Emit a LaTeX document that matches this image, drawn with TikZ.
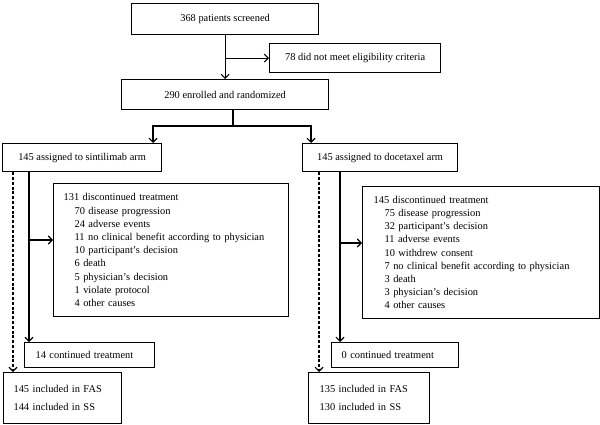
\documentclass[tikz,border=0pt]{standalone}
\usepackage{fontspec}
\setmainfont{Liberation Serif}
\usetikzlibrary{arrows.meta}

\tikzset{
  box/.style={draw, line width=1.2pt, anchor=north west, inner sep=0pt,
    font=\fontsize{10.4}{13.2}\selectfont},
  listbox/.style={box, align=left, inner xsep=10pt},
  link/.style={line width=1.1pt, -{Straight Barb[length=4pt,width=8pt]}},
  dashlink/.style={link, dash pattern=on 3pt off 1.8pt},
}

\begin{document}
\begin{tikzpicture}[x=1pt, y=-1pt]
    \useasboundingbox (0,0) rectangle (600,425);
    \node[box, minimum width=187pt, minimum height=31pt] (screen) at (131,3) {368 patients screened};
    \node[box, minimum width=171pt, minimum height=29pt] (excl) at (269,43) {78 did not meet eligibility criteria};
    \node[box, minimum width=207pt, minimum height=30pt] (enrol) at (121,79) {290 enrolled and randomized};
    \node[box, minimum width=159pt, minimum height=28pt] (armA) at (2,143) {145 assigned to sintilimab arm};
    \node[box, minimum width=155pt, minimum height=28pt] (armB) at (302,143) {145 assigned to docetaxel arm};

    \node[listbox, text width=215pt, minimum height=133pt] (discA) at (53,183) {131 discontinued treatment\\
        \hspace*{11pt}70 disease progression\\
        \hspace*{11pt}24 adverse events\\
        \hspace*{11pt}11 no clinical benefit according to physician\\
        \hspace*{11pt}10 participant’s decision\\
        \hspace*{11pt}6 death\\
        \hspace*{11pt}5 physician’s decision\\
        \hspace*{11pt}1 violate protocol\\
        \hspace*{11pt}4 other causes};
    \node[listbox, text width=215pt, inner xsep=11pt, minimum height=132pt] (discB) at (362,186) {145 discontinued treatment\\
        \hspace*{11pt}75 disease progression\\
        \hspace*{11pt}32 participant’s decision\\
        \hspace*{11pt}11 adverse events\\
        \hspace*{11pt}10 withdrew consent\\
        \hspace*{11pt}7 no clinical benefit according to physician\\
        \hspace*{11pt}3 death\\
        \hspace*{11pt}3 physician’s decision\\
        \hspace*{11pt}4 other causes};

    \node[listbox, text width=108pt, inner xsep=11pt, minimum height=25pt] (contA) at (24,342) {14 continued treatment};
    \node[listbox, text width=107pt, minimum height=25pt] (contB) at (331,342) {0 continued treatment};
    \node[listbox, text width=98pt, minimum height=51pt] (fasA) at (3,372) {145 included in FAS\\[4.3pt]144 included in SS};
    \node[listbox, text width=99pt, inner xsep=11pt, minimum height=51pt] (fasB) at (308,372) {135 included in FAS\\[4.3pt]130 included in SS};

    \coordinate (rand) at (233,126);
    \coordinate (toA) at (153,126);
    \coordinate (toB) at (311,126);
    \coordinate (outA) at (29,240);
    \coordinate (outB) at (340,243);
    \coordinate (dashA) at (13,0);
    \coordinate (dashB) at (319,0);

    \draw[link] (screen.south) -- (enrol.north);
    \draw[link] (screen.south |- excl.west) -- (excl.west);
    \draw[line width=1.1pt] (rand |- enrol.south) -- (rand);
    \draw[link] (rand) -- (toA) -- (toA |- armA.north);
    \draw[link] (rand) -- (toB) -- (toB |- armB.north);

    \draw[link] (armA.south -| outA) -- (contA.north -| outA);
    \draw[link] (outA) -- (outA -| discA.west);
    \draw[dashlink] (armA.south -| dashA) -- (fasA.north -| dashA);
    \draw[link] (armB.south -| outB) -- (contB.north -| outB);
    \draw[link] (outB) -- (outB -| discB.west);
    \draw[dashlink] (armB.south -| dashB) -- (fasB.north -| dashB);
\end{tikzpicture}
\end{document}
